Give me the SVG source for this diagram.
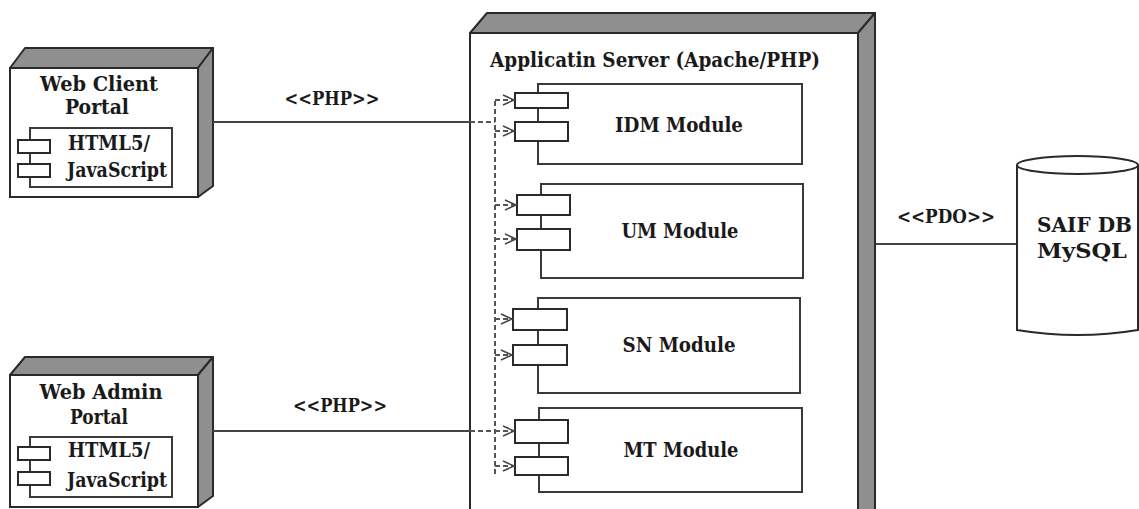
<svg xmlns="http://www.w3.org/2000/svg" width="1139" height="509" viewBox="0 0 1139 509">
<style>
.face{fill:#fff;stroke:#2a2a2a;stroke-width:2}
.shade{fill:#8f8f8f;stroke:#2a2a2a;stroke-width:2;stroke-linejoin:round}
.box{fill:#fff;stroke:#3a3a3a;stroke-width:2}
.port{fill:#fff;stroke:#2a2a2a;stroke-width:2}
text{font-family:"DejaVu Serif","Liberation Serif","Times New Roman",serif;font-weight:bold;fill:#1a1a1a}
.title{font-size:21px}
.mod{font-size:20px}
.lbl{font-size:18px}
.line{stroke:#444;stroke-width:2;fill:none}
.dash{stroke:#555;stroke-width:2;stroke-dasharray:5 3;fill:none}
.arr{stroke:#444;stroke-width:1.5;fill:none}
</style>
<rect width="1139" height="509" fill="#fff"/>

<g id="web-client">
  <polygon class="shade" points="10,68 25,48 213,48 198,68"/>
  <polygon class="shade" points="198,68 213,48 213,186 198,197"/>
  <rect class="face" x="10" y="68" width="188" height="129"/>
  <text class="title" x="99" y="91" text-anchor="middle" textLength="118" lengthAdjust="spacingAndGlyphs">Web Client</text>
  <text class="title" x="97" y="114" text-anchor="middle" textLength="64" lengthAdjust="spacingAndGlyphs">Portal</text>
  <rect class="box" x="30" y="128" width="142" height="59"/>
  <rect class="port" x="18" y="140" width="32" height="13"/>
  <rect class="port" x="18" y="164" width="32" height="13"/>
  <text class="mod" x="68" y="150" textLength="82" lengthAdjust="spacingAndGlyphs">HTML5/</text>
  <text class="mod" x="67" y="177" textLength="100" lengthAdjust="spacingAndGlyphs">JavaScript</text>
</g>

<g id="web-admin">
  <polygon class="shade" points="10,375 25,357 213,357 198,375"/>
  <polygon class="shade" points="198,375 213,357 213,496 198,507"/>
  <rect class="face" x="10" y="375" width="188" height="132"/>
  <text class="title" x="101" y="399" text-anchor="middle" textLength="123" lengthAdjust="spacingAndGlyphs">Web Admin</text>
  <text class="title" x="99" y="424" text-anchor="middle" textLength="58" lengthAdjust="spacingAndGlyphs">Portal</text>
  <rect class="box" x="30" y="437" width="142" height="60"/>
  <rect class="port" x="18" y="447" width="32" height="13"/>
  <rect class="port" x="18" y="472" width="32" height="13"/>
  <text class="mod" x="68" y="457" textLength="82" lengthAdjust="spacingAndGlyphs">HTML5/</text>
  <text class="mod" x="67" y="487" textLength="100" lengthAdjust="spacingAndGlyphs">JavaScript</text>
</g>

<g id="app-server">
  <polygon class="shade" points="470,33 487,13 875,13 858,33"/>
  <polygon class="shade" points="858,33 875,13 875,520 858,520"/>
  <rect class="face" x="470" y="33" width="388" height="490"/>
  <text class="title" x="490" y="67" textLength="330" lengthAdjust="spacingAndGlyphs">Applicatin Server (Apache/PHP)</text>
</g>

<g id="idm-module">
  <rect class="box" x="538" y="84" width="264" height="80"/>
  <rect class="port" x="515" y="93" width="53" height="15"/>
  <rect class="port" x="515" y="122" width="53" height="19"/>
  <text class="mod" x="679" y="132" text-anchor="middle" textLength="128" lengthAdjust="spacingAndGlyphs">IDM Module</text>
</g>

<g id="um-module">
  <rect class="box" x="541" y="184" width="262" height="94"/>
  <rect class="port" x="517" y="195" width="53" height="20"/>
  <rect class="port" x="517" y="229" width="53" height="21"/>
  <text class="mod" x="680" y="238" text-anchor="middle" textLength="117" lengthAdjust="spacingAndGlyphs">UM Module</text>
</g>

<g id="sn-module">
  <rect class="box" x="538" y="298" width="262" height="95"/>
  <rect class="port" x="513" y="309" width="54" height="21"/>
  <rect class="port" x="513" y="345" width="54" height="20"/>
  <text class="mod" x="679" y="352" text-anchor="middle" textLength="113" lengthAdjust="spacingAndGlyphs">SN Module</text>
</g>

<g id="mt-module">
  <rect class="box" x="539" y="408" width="263" height="84"/>
  <rect class="port" x="515" y="420" width="53" height="23"/>
  <rect class="port" x="515" y="457" width="53" height="18"/>
  <text class="mod" x="681" y="457" text-anchor="middle" textLength="115" lengthAdjust="spacingAndGlyphs">MT Module</text>
</g>

<g id="database">
  <path class="face" d="M1017,165 L1017,330 Q1077.5,340 1138,330 L1138,165"/>
  <ellipse class="face" cx="1077.5" cy="165" rx="60.5" ry="9"/>
  <text class="title" x="1037" y="232" textLength="95" lengthAdjust="spacingAndGlyphs">SAIF DB</text>
  <text class="title" x="1037" y="258" textLength="90" lengthAdjust="spacingAndGlyphs">MySQL</text>
</g>

<g id="connectors">
  <line class="line" x1="213" y1="122" x2="470" y2="122"/>
  <line class="dash" x1="470" y1="122" x2="495" y2="122"/>
  <line class="line" x1="213" y1="431" x2="470" y2="431"/>
  <line class="dash" x1="470" y1="431" x2="495" y2="431"/>
  <line class="dash" x1="495" y1="101" x2="495" y2="474"/>
  <line class="line" x1="876" y1="244" x2="1016" y2="244"/>
  <g class="dash">
    <line x1="495" y1="100" x2="513" y2="100"/>
    <line x1="495" y1="131" x2="513" y2="131"/>
    <line x1="495" y1="205" x2="515" y2="205"/>
    <line x1="495" y1="239" x2="515" y2="239"/>
    <line x1="495" y1="319" x2="511" y2="319"/>
    <line x1="495" y1="355" x2="511" y2="355"/>
    <line x1="495" y1="431" x2="513" y2="431"/>
    <line x1="495" y1="466" x2="513" y2="466"/>
  </g>
  <g class="arr">
    <polyline points="503,95 514,100 503,105"/>
    <polyline points="503,126 514,131 503,136"/>
    <polyline points="505,200 516,205 505,210"/>
    <polyline points="505,234 516,239 505,244"/>
    <polyline points="501,314 512,319 501,324"/>
    <polyline points="501,350 512,355 501,360"/>
    <polyline points="503,426 514,431 503,436"/>
    <polyline points="503,461 514,466 503,471"/>
  </g>
  <text class="lbl" x="332" y="105" text-anchor="middle" textLength="95" lengthAdjust="spacingAndGlyphs">&lt;&lt;PHP&gt;&gt;</text>
  <text class="lbl" x="340" y="412" text-anchor="middle" textLength="94" lengthAdjust="spacingAndGlyphs">&lt;&lt;PHP&gt;&gt;</text>
  <text class="lbl" x="946" y="223" text-anchor="middle" textLength="98" lengthAdjust="spacingAndGlyphs">&lt;&lt;PDO&gt;&gt;</text>
</g>
</svg>
